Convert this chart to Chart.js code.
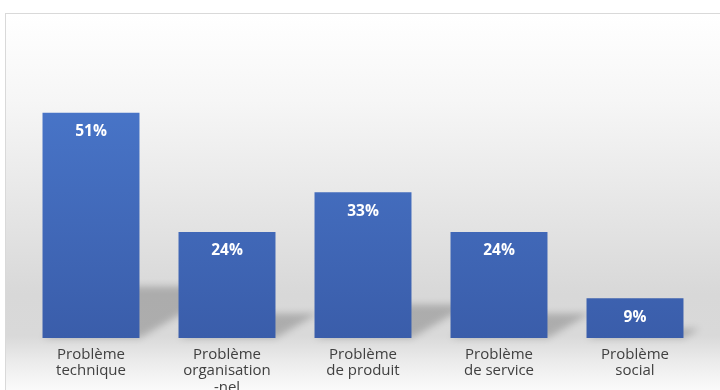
<!DOCTYPE html>
<html>
<head>
<meta charset="utf-8">
<script src="https://cdn.jsdelivr.net/npm/chart.js@4/dist/chart.umd.min.js"></script>
<style>
  html, body { margin: 0; padding: 0; width: 720px; height: 390px; overflow: hidden; background: #ffffff; }
  #frame { position: absolute; left: 5px; top: 13px; width: 740px; height: 400px; box-sizing: border-box;
    border: 1px solid #d9d9d9;
    background: linear-gradient(to bottom, #ffffff 0px, #f6f6f6 87px, #e7e7e7 187px, #d8d8d8 280px, #d9d9d9 322px, #ebebeb 347px, #fbfbfb 377px); }
  #c { position: absolute; left: 0; top: 0; }
</style>
</head>
<body>
<div id="frame"></div>
<canvas id="c" width="720" height="400"></canvas>
<script>
const categories = [
  ["Problème", "technique"],
  ["Problème", "organisation", "-nel"],
  ["Problème", "de produit"],
  ["Problème", "de service"],
  ["Problème", "social"]
];
const values = [51, 24, 33, 24, 9];
const valueLabels = ["51%", "24%", "33%", "24%", "9%"];

const shadowPlugin = {
  id: 'perspShadow',
  beforeDatasetsDraw(chart) {
    const ctx = chart.ctx;
    const meta = chart.getDatasetMeta(0);
    ctx.save();
    ctx.filter = 'blur(3.5px)';
    ctx.fillStyle = 'rgba(0,0,0,0.2)';
    meta.data.forEach(bar => {
      const x0 = bar.x - bar.width / 2, x1 = bar.x + bar.width / 2;
      const base = bar.base, top = bar.y;
      const h = (base - top) * 0.23;
      const dx = h * 1.74;
      ctx.beginPath();
      ctx.moveTo(x0, base);
      ctx.lineTo(x1, base);
      ctx.lineTo(x1 + dx, base - h);
      ctx.lineTo(x0 + dx, base - h);
      ctx.closePath();
      ctx.fill();
    });
    ctx.restore();
  }
};

const labelPlugin = {
  id: 'valueLabels',
  afterDatasetsDraw(chart) {
    const ctx = chart.ctx;
    const meta = chart.getDatasetMeta(0);
    ctx.save();
    ctx.font = 'bold 15.5px "Open Sans"';
    ctx.fillStyle = '#ffffff';
    ctx.textAlign = 'center';
    ctx.textBaseline = 'middle';
    meta.data.forEach((bar, i) => {
      ctx.fillText(valueLabels[i], bar.x, bar.y + 19);
    });
    ctx.restore();
  }
};

const ctx = document.getElementById('c').getContext('2d');
new Chart(ctx, {
  type: 'bar',
  data: {
    labels: categories,
    datasets: [{
      data: values,
      backgroundColor: (c) => {
        const area = c.chart.chartArea;
        if (!area) return '#4472c4';
        const g = c.chart.ctx.createLinearGradient(0, area.top, 0, area.bottom);
        g.addColorStop(0, '#4a78cc');
        g.addColorStop(1, '#3a5daa');
        return g;
      },
      borderWidth: 0,
      barPercentage: 0.713,
      categoryPercentage: 1.0
    }]
  },
  options: {
    responsive: false,
    animation: false,
    devicePixelRatio: 1,
    layout: { padding: { left: 23, right: 17, top: 73, bottom: 2 } },
    plugins: { legend: { display: false }, tooltip: { enabled: false } },
    scales: {
      x: {
        grid: { display: false },
        border: { display: false },
        ticks: {
          color: '#404040',
          font: { family: '"Open Sans"', size: 15, lineHeight: 1.1 },
          padding: 0,
          maxRotation: 0,
          autoSkip: false
        },
        afterFit(scale) { scale.height = 60; }
      },
      y: {
        display: false,
        min: 0,
        max: 60
      }
    }
  },
  plugins: [shadowPlugin, labelPlugin]
});
</script>
</body>
</html>
